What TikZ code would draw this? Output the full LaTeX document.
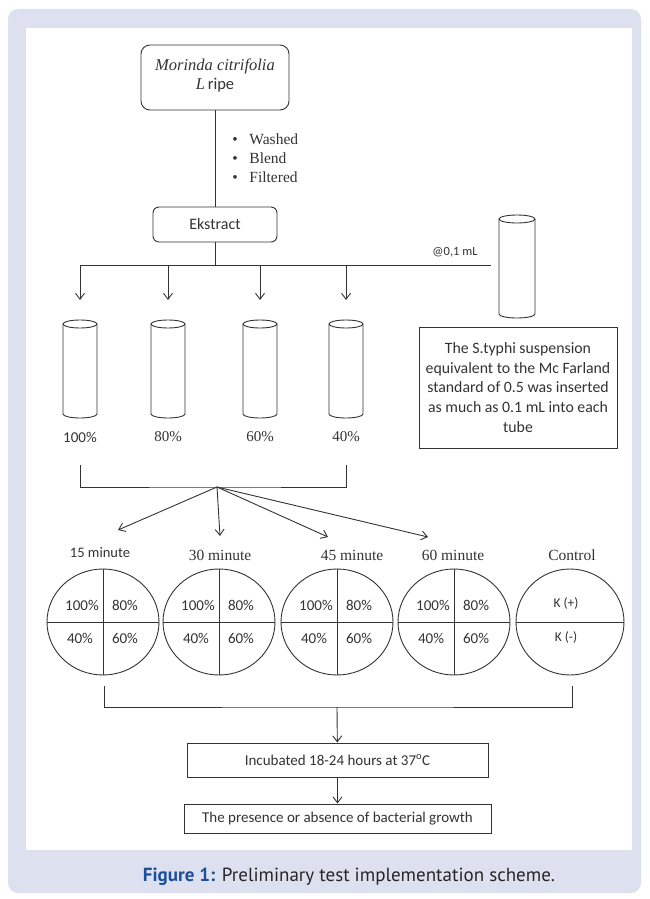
\documentclass[tikz,border=0pt]{standalone}
\usepackage{fontspec}
\setmainfont{Liberation Serif}
\newfontfamily\calib{Carlito}
\newfontfamily\capfont{PT Sans}
\usetikzlibrary{arrows.meta,shapes.geometric,positioning,calc}
\definecolor{framebg}{RGB}{221,225,239}
\definecolor{capblue}{RGB}{27,79,156}
\tikzset{>={Straight Barb[length=6pt,width=9pt]}}

\begin{document}
\begin{tikzpicture}[x=1pt,y=-1pt,line width=0.9pt,color=black!80,
	rbox/.style={draw, rounded corners=9pt, align=center, inner sep=0pt},
	sbox/.style={draw, align=center, inner sep=0pt},
	cal/.style={font=\calib\fontsize{15}{18}\selectfont},
	ser/.style={font=\fontsize{15.5}{19}\selectfont},
	plate/.style={draw, ellipse, minimum width=112pt, minimum height=106pt, inner sep=0pt}]
	\useasboundingbox (0,0) rectangle (649,899);
	\fill [framebg, rounded corners=10pt] (8,9) rectangle (641,893);
	\fill [white] (26,28) rectangle (632,850);

	% fruit and extract
	\node [rbox, font=\fontsize{16.5}{19}\selectfont, minimum width=148pt, minimum height=65pt] (fruit) at (215,77.5) {\textit{Morinda citrifolia}\\\textit{L}\,{\calib ripe}\\[-13pt]};
	\node [rbox, cal, font=\calib\fontsize{16}{18}\selectfont, rounded corners=6pt, minimum width=124pt, minimum height=35pt] (extract) at (215,224.5) {Ekstract};
	\draw (fruit) -- (extract);
	\node [ser, align=left, anchor=west, inner sep=0pt] (steps) at (232,158.5) {\makebox[17pt][l]{\textbullet}Washed\\\makebox[17pt][l]{\textbullet}Blend\\\makebox[17pt][l]{\textbullet}Filtered};

	% tubes
	\coordinate (split) at (215,265);
	\coordinate (feed) at (491,265);
	\foreach \x [count=\i] in {80,168,260,346} {
		\draw (\x-17,324) -- (\x-17,414) arc [start angle=180, end angle=360, x radius=17pt, y radius=4pt] -- (\x+17,324);
		\draw (\x,324) ellipse [x radius=17pt, y radius=4pt];
		\coordinate (in\i) at (\x,300);
	}
	\draw (499,219) -- (499,314) arc [start angle=180, end angle=360, x radius=18pt, y radius=4pt] -- (535,219);
	\draw (517,219) ellipse [x radius=18pt, y radius=4pt];
	\draw (extract) -- (split);
	\draw (in1 |- split) -- (feed);
	\foreach \i in {1,...,4}
		\draw [->] (in\i |- split) -- (in\i);
	\node [cal, font=\calib\fontsize{12.5}{14}\selectfont] (dose) at (455,252) {@0,1 mL};
	\node [cal] (c100) at (80,437) {100\%};
	\node [ser, font=\fontsize{15}{18}\selectfont] (c80) at (168,437) {80\%};
	\node [ser, font=\fontsize{15}{18}\selectfont] (c60) at (260,437) {60\%};
	\node [ser, font=\fontsize{15}{18}\selectfont] (c40) at (346,437) {40\%};
	\node [sbox, cal, font=\calib\fontsize{15.8}{19.8}\selectfont, minimum width=198pt, minimum height=121pt] (info) at (518,387.5) {The S.typhi suspension\\equivalent to the Mc Farland\\standard of 0.5 was inserted\\as much as 0.1 mL into each\\tube};

	% plates
	\coordinate (bl) at (80,465);
	\coordinate (br) at (346,465);
	\coordinate (fan) at (217,487);
	\draw (bl) |- (fan) -| (br);
	\coordinate (g1) at (118,530);
	\coordinate (g2) at (220,536);
	\coordinate (g3) at (328,537);
	\coordinate (g4) at (428,537);
	\foreach \i in {1,...,4}
		\draw [->] (fan) -- (g\i);
	\node [cal, font=\calib\fontsize{14.5}{17}\selectfont] (m1) at (100,553) {15 minute};
	\node [ser] (m2) at (220,555) {30 minute};
	\node [ser] (m3) at (352,555) {45 minute};
	\node [ser] (m4) at (453,555) {60 minute};
	\node [ser] (m5) at (572,555) {Control};
	\foreach \x [count=\i] in {103,219,337,454} {
		\node [plate] (p\i) at (\x,622) {};
		\draw (p\i.north) -- (p\i.south);
		\draw (p\i.west) -- (p\i.east);
		\node [cal] at ($(p\i)+(-21,-17)$) {100\%};
		\node [cal] at ($(p\i)+(22,-17)$) {80\%};
		\node [cal] at ($(p\i)+(-23,16)$) {40\%};
		\node [cal] at ($(p\i)+(22,16)$) {60\%};
	}
	\node [plate, minimum width=108pt] (p5) at (570,622) {};
	\draw (p5.west) -- (p5.east);
	\node [cal, font=\calib\fontsize{13.5}{16}\selectfont] (kpos) at (566,603) {K (+)};
	\node [cal, font=\calib\fontsize{13.5}{16}\selectfont] (kneg) at (566,637) {K (-)};

	% incubation
	\coordinate (cl) at (104,686);
	\coordinate (cr) at (572,686);
	\coordinate (join) at (337,707);
	\draw (cl) |- (join) -| (cr);
	\node [sbox, cal, minimum width=301pt, minimum height=34pt] (incub) at (337.5,760) {Incubated 18-24 hours at 37\textsuperscript{o}C};
	\node [sbox, cal, minimum width=307pt, minimum height=29pt] (result) at (337.5,818.5) {The presence or absence of bacterial growth};
	\draw [->] (join) -- (incub);
	\draw [->] (incub) -- (result);

	\node [font=\capfont\fontsize{19}{22}\selectfont, text=black!85] (caption) at (349,877) {\textcolor{capblue}{\bfseries Figure 1:} Preliminary test implementation scheme.};
\end{tikzpicture}
\end{document}
